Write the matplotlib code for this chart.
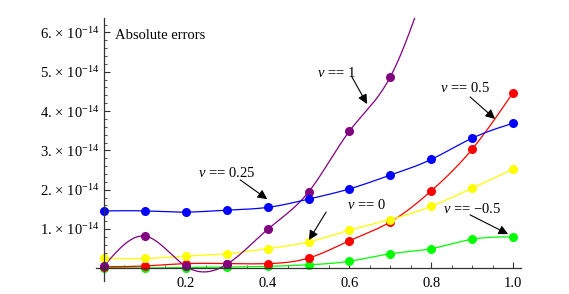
import numpy as np
import matplotlib
matplotlib.use("Agg")
import matplotlib.pyplot as plt
from matplotlib.ticker import FixedLocator, FixedFormatter

plt.rcParams['font.family'] = 'Liberation Serif'
plt.rcParams['mathtext.fontset'] = 'custom'
plt.rcParams['mathtext.rm'] = 'Liberation Serif'
plt.rcParams['mathtext.it'] = 'Liberation Serif:italic'

SCALE = 1e-14

# errors in units of 1e-14
x_nodes = [0.0, 0.1, 0.2, 0.3, 0.4, 0.5, 0.6, 0.7, 0.8, 0.9, 1.0]
err_m05 = [0.02, 0.01, 0.02, 0.03, 0.05, 0.09, 0.18, 0.37, 0.50, 0.74, 0.80]
err_0 = [0.26, 0.25, 0.31, 0.37, 0.50, 0.67, 0.97, 1.24, 1.58, 2.04, 2.52]
err_05 = [0.04, 0.06, 0.12, 0.12, 0.12, 0.26, 0.70, 1.18, 1.97, 3.03, 4.47]
err_025 = [1.46, 1.46, 1.43, 1.48, 1.55, 1.76, 2.02, 2.37, 2.77, 3.31, 3.69]
# nu = 1 leaves the top of the plot after 0.7 (last value is an estimate)
x_nu1 = [0.0, 0.1, 0.2, 0.3, 0.4, 0.5, 0.6, 0.7, 0.8]
err_1 = [0.06, 0.82, 0.05, 0.10, 0.99, 1.94, 3.49, 4.87, 7.6]

y_major = [1, 2, 3, 4, 5, 6]
y_labels = [f"{k}." + r"$\,\times\,$10$^{-14}$" for k in y_major]
x_major = [0.2, 0.4, 0.6, 0.8, 1.0]
x_labels = ["0.2", "0.4", "0.6", "0.8", "1.0"]


def spline(x, y, n=300):
    # natural cubic spline through the points
    x = np.asarray(x, float)
    y = np.asarray(y, float)
    h = np.diff(x)
    m = len(x)
    A = np.zeros((m, m))
    b = np.zeros(m)
    A[0, 0] = A[-1, -1] = 1
    for i in range(1, m - 1):
        A[i, i - 1] = h[i - 1]
        A[i, i] = 2 * (h[i - 1] + h[i])
        A[i, i + 1] = h[i]
        b[i] = 3 * ((y[i + 1] - y[i]) / h[i] - (y[i] - y[i - 1]) / h[i - 1])
    c = np.linalg.solve(A, b)
    xs = np.linspace(x[0], x[-1], n)
    idx = np.clip(np.searchsorted(x, xs) - 1, 0, m - 2)
    dx = xs - x[idx]
    bc = (y[idx + 1] - y[idx]) / h[idx] - h[idx] * (2 * c[idx] + c[idx + 1]) / 3
    d = (c[idx + 1] - c[idx]) / (3 * h[idx])
    return xs, y[idx] + bc * dx + c[idx] * dx ** 2 + d * dx ** 3


fig = plt.figure(figsize=(5.69, 2.94), dpi=100)
ax = fig.add_axes([0.1684, 0.0432, 0.7476, 0.8946])

series = [
    (x_nodes, err_m05, "#00ff00"),
    (x_nodes, err_05, "#ff0000"),
    (x_nodes, err_0, "#ffff00"),
    (x_nu1, err_1, "#800080"),
    (x_nodes, err_025, "#0000ff"),
]
for xs, ys, col in series:
    sx, sy = spline(xs, ys)
    ax.plot(sx, sy * SCALE, color=col, lw=0.9)
for xs, ys, col in series:
    ax.plot(xs, np.asarray(ys) * SCALE, 'o', color=col, ms=6.5, mec='none')

ax.set_xlim(-0.02, 1.02)
ax.set_ylim(-0.33 * SCALE, 6.36 * SCALE)

for s in ['top', 'right']:
    ax.spines[s].set_visible(False)
ax.spines['left'].set_position(('data', 0))
ax.spines['bottom'].set_position(('data', 0))
for s in ['left', 'bottom']:
    ax.spines[s].set_color('#333333')
    ax.spines[s].set_linewidth(0.9)

ax.xaxis.set_major_locator(FixedLocator(x_major))
ax.xaxis.set_major_formatter(FixedFormatter(x_labels))
ax.xaxis.set_minor_locator(FixedLocator(np.arange(0.05, 1.001, 0.05)))
ax.yaxis.set_major_locator(FixedLocator([v * SCALE for v in y_major]))
ax.yaxis.set_major_formatter(FixedFormatter(y_labels))
ax.yaxis.set_minor_locator(FixedLocator(np.arange(0.2, 6.25, 0.2) * SCALE))
ax.tick_params(which='both', direction='in', color='#333333', labelsize=10.5)
ax.tick_params(which='major', length=4, width=0.8)
ax.tick_params(which='minor', length=2.5, width=0.6)
ax.tick_params(axis='x', pad=6)
ax.tick_params(axis='y', pad=3)

ax.text(0.027, 5.91 * SCALE, "Absolute errors", fontsize=10.5, va='center', ha='left')

notes = [
    (r"$\nu$ == 1", (0.521, 4.97), (0.606, 4.87), (0.643, 4.18)),
    (r"$\nu$ == 0.25", (0.2286, 2.42), (0.333, 2.25), (0.399, 1.76)),
    (r"$\nu$ == 0", (0.594, 1.61), (0.543, 1.43), (0.501, 0.72)),
    (r"$\nu$ == 0.5", (0.822, 4.59), (0.895, 4.36), (0.956, 3.80)),
    (r"$\nu$ == −0.5", (0.829, 1.51), (0.895, 1.36), (0.988, 0.87)),
]
for label, tpos, tail, head in notes:
    ax.text(tpos[0], tpos[1] * SCALE, label, fontsize=10.5, va='center', ha='left')
    ax.annotate("", xy=(head[0], head[1] * SCALE), xytext=(tail[0], tail[1] * SCALE),
                arrowprops=dict(arrowstyle='-|>', color='black', lw=0.8,
                                mutation_scale=14, shrinkA=0, shrinkB=0))

fig.savefig("out.png", dpi=100)
